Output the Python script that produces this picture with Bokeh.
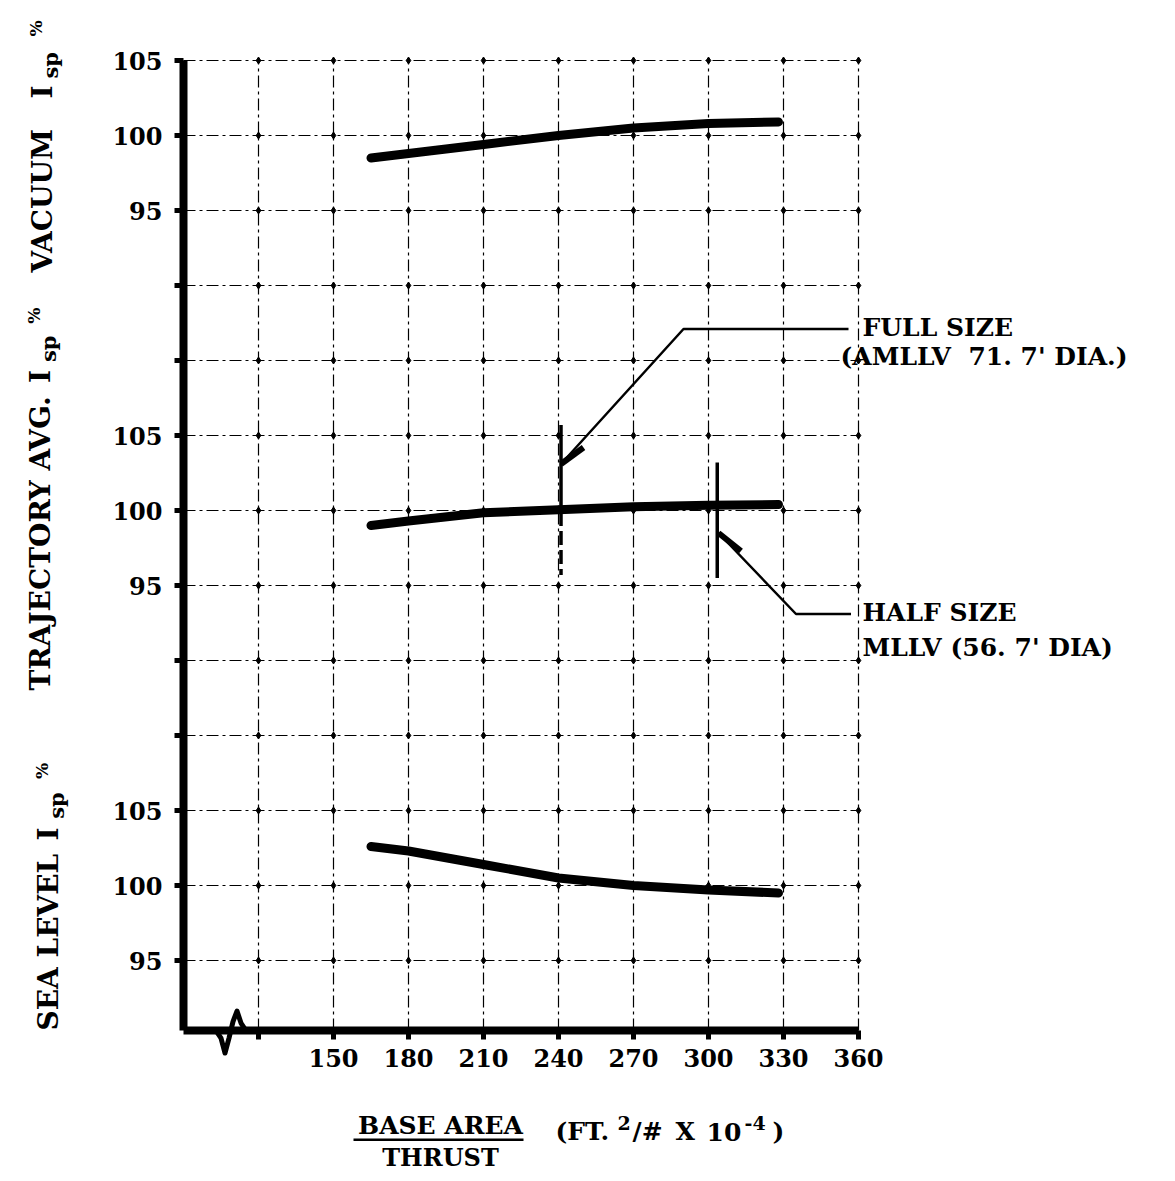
import numpy as np
from bokeh.plotting import figure
from bokeh.models import FixedTicker, Range1d
from bokeh.core.properties import value
from bokeh.embed import file_html
from bokeh.resources import INLINE

# ---------------- data ----------------
base_area_thrust = [165, 180, 210, 240, 270, 300, 328]
vacuum_isp = [98.5, 98.8, 99.4, 100.0, 100.5, 100.8, 100.9]
trajectory_isp = [99.0, 99.3, 99.85, 100.05, 100.25, 100.35, 100.4]
sea_level_isp = [102.6, 102.3, 101.4, 100.5, 100.0, 99.7, 99.5]

x_tick_values = [150, 180, 210, 240, 270, 300, 330, 360]
x_grid_values = [120, 150, 180, 210, 240, 270, 300, 330, 360]
panel_tick_values = [95, 100, 105]
panel_names = ["SEA LEVEL", "TRAJECTORY AVG.", "VACUUM"]
panel_offsets = [0, 25, 50]          # stacking offset of each panel on the common axis

full_size_label = ["FULL SIZE", "(AMLLV\u00a0\u00a071. 7' DIA.)"]
half_size_label = ["HALF SIZE", "MLLV (56. 7' DIA)"]

FONT = value("DejaVu Serif")

# ---------------- figure ----------------
W, H = 1167, 1173
X0, X1 = 90, 360
U0, U1 = 90.33, 155
XS, UT = 16.8, 159.0       # data value at the left / top edge of the canvas
p = figure(width=W, height=H,
           x_range=Range1d(XS, XS + W / 2.5), y_range=Range1d(UT - H / 15, UT),
           output_backend="svg", toolbar_location=None, min_border=0)
p.outline_line_color = None
p.xgrid.visible = False
p.ygrid.visible = False
p.background_fill_color = "white"

# stacked positions of the grid and ticks
y_grid_values = sorted(set(t + o for o in panel_offsets
                           for t in [95, 100, 105, 110, 115] if t + o <= U1))
overrides = {g: "" for g in y_grid_values}
for o in panel_offsets:
    for t in panel_tick_values:
        overrides[t + o] = str(t)

# grid lines (dash-dot) with small marks at the crossings
p.segment(x0=[X0] * len(y_grid_values), x1=[X1] * len(y_grid_values),
          y0=y_grid_values, y1=y_grid_values,
          line_color="black", line_width=1.2, line_dash="12 4 3 4")
p.segment(x0=x_grid_values, x1=x_grid_values,
          y0=[U0] * len(x_grid_values), y1=[U1] * len(x_grid_values),
          line_color="black", line_width=1.2, line_dash="12 4 3 4")
gx, gy = np.meshgrid(x_grid_values, y_grid_values)
p.scatter(gx.ravel(), gy.ravel(), marker="diamond", size=7, color="black")

# axes
xa = p.xaxis[0]
xa.fixed_location = U0
xa.bounds = (X0, X1)
xa.ticker = FixedTicker(ticks=x_grid_values)
xa.major_label_overrides = {120: ""}
xa.major_label_standoff = 9
ya = p.yaxis[0]
ya.fixed_location = X0
ya.bounds = (U0, U1)
ya.ticker = FixedTicker(ticks=y_grid_values)
ya.major_label_overrides = overrides
ya.major_label_standoff = 12
for ax in (xa, ya):
    ax.axis_line_width = 8
    ax.axis_line_color = "black"
    ax.major_tick_in = 0
    ax.major_tick_out = 9
    ax.major_tick_line_width = 5
    ax.minor_tick_line_color = None
    ax.major_label_text_font = "DejaVu Serif"
    ax.major_label_text_font_style = "bold"
    ax.major_label_text_font_size = "24px"
    ax.major_label_text_color = "black"

# axis break wiggle on the base line
p.line([X0 + 6, 103, 105, 106.6, 108.2, 109.8, 111.4, 113, 115, 120],
       [U0, U0, U0 - 0.5, U0 - 1.5, U0 - 0.5, U0 + 0.6, U0 + 1.3, U0 + 0.5, U0, U0],
       line_color="black", line_width=5, line_join="round")

# curves
for vals, off in zip([sea_level_isp, trajectory_isp, vacuum_isp], panel_offsets):
    p.line(base_area_thrust, [v + off for v in vals], line_color="black",
           line_width=9, line_cap="round")

# FULL SIZE callout
p.segment(x0=[241], x1=[241], y0=[130.7], y1=[125.3], line_color="black", line_width=3.5)
p.segment(x0=[241], x1=[241], y0=[124.9], y1=[120.7], line_color="black", line_width=3.5,
          line_dash="14 5")
p.line([241, 290, 356], [128.1, 137.1, 137.1], line_color="black", line_width=2.5)
p.line([241, 250], [128.1, 129.2], line_color="black", line_width=6)
# HALF SIZE callout
p.segment(x0=[303.5], x1=[303.5], y0=[128.2], y1=[120.5], line_color="black", line_width=3.5)
p.line([304, 335, 357], [123.5, 118.1, 118.1], line_color="black", line_width=2.5)
p.line([304, 313], [123.5, 122.3], line_color="black", line_width=6)

txt = dict(text_font=FONT, text_font_style="bold", text_color="black",
           text_baseline="middle")
p.text(x=[361.6, 352.8], y=[137.2, 135.3], text=full_size_label,
       text_font_size="25px", text_align="left", **txt)
p.text(x=[361.6, 361.6], y=[118.2, 115.9], text=half_size_label,
       text_font_size="25px", text_align="left", **txt)

# rotated panel titles  (order: sea level, trajectory, vacuum)
ang = np.pi / 2
p.text(x=[36.0, 32.8, 33.6], y=[90.33, 113.0, 140.87], text=panel_names, angle=ang,
       text_font_size="28px", text_align="left", **txt)
p.text(x=[36.0, 32.8, 33.6], y=[103.0, 133.5, 152.47], text=["I"] * 3, angle=ang,
       text_font_size="28px", text_align="left", **txt)
p.text(x=[39.2, 36.0, 36.8], y=[104.45, 134.9, 153.8], text=["sp"] * 3, angle=ang,
       text_font_size="21px", text_align="left", **txt)
p.text(x=[33.2, 30.0, 30.8], y=[107.1, 137.45, 156.6], text=["%"] * 3, angle=ang,
       text_font_size="17px", text_align="left", **txt)

# x axis title
p.text(x=[192.8], y=[84.0], text=["BASE AREA"], text_font_size="25px",
       text_align="center", **txt)
p.segment(x0=[158], x1=[226], y0=[83.05], y1=[83.05], line_color="black", line_width=2.5)
p.text(x=[192.8], y=[81.9], text=["THRUST"], text_font_size="24px",
       text_align="center", **txt)
p.text(x=[238.8, 269.6, 286.8, 299.2, 325.6], y=[83.6] * 5,
       text=["(FT.", "/#", "X", "10", ")"], text_font_size="25px", text_align="left", **txt)
p.text(x=[263.6, 314.4], y=[84.2] * 2, text=["2", "-4"], text_font_size="19px",
       text_align="left", **txt)

open("out.html", "w").write(file_html(p, INLINE))
